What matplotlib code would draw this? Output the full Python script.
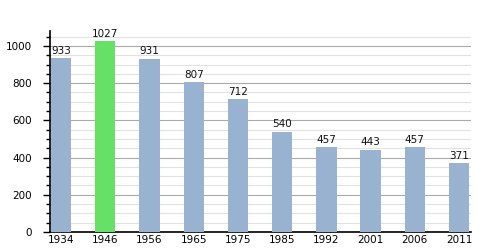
import matplotlib
matplotlib.use("Agg")
import matplotlib.pyplot as plt
import numpy as np

YEARS = ["1934", "1946", "1956", "1965", "1975", "1985", "1992", "2001", "2006", "2011"]
POPULATION = [933, 1027, 931, 807, 712, 540, 457, 443, 457, 371]
HIGHLIGHT = "1946"

BAR_COLOR = "#98b2cf"
PEAK_COLOR = "#66e066"

fig = plt.figure(figsize=(5, 2.5), dpi=100)
ax = fig.add_axes([0.1, 0.072, 0.842, 0.804])

x = np.arange(len(YEARS))
colors = [PEAK_COLOR if y == HIGHLIGHT else BAR_COLOR for y in YEARS]
ax.bar(x, POPULATION, 0.46, color=colors, zorder=3)
for xi, v in zip(x, POPULATION):
    ax.text(xi, v + 12, str(v), ha="center", va="bottom", fontsize=7.5, color="#111111")

ax.set_xlim(-0.25, 9.27)
ax.set_ylim(0, 1080)
ax.set_xticks(x)
ax.set_xticklabels(YEARS, fontsize=7.5)
ax.tick_params(axis="x", length=0, pad=2)
ax.set_yticks(np.arange(0, 1001, 200))
ax.set_yticks(np.arange(0, 1051, 50), minor=True)
ax.tick_params(axis="y", which="major", length=5, width=1, labelsize=7.5, pad=8)
ax.tick_params(axis="y", which="minor", length=3, width=1)
ax.yaxis.grid(True, which="major", color="#aaaaaa", linewidth=0.8, zorder=0)
ax.yaxis.grid(True, which="minor", color="#e2e2e2", linewidth=0.8, zorder=0)
ax.set_axisbelow(True)
ax.spines[["top", "right"]].set_visible(False)
ax.spines["left"].set_linewidth(1.2)
ax.spines["bottom"].set_linewidth(1.2)

fig.savefig("out.png", dpi=100)
